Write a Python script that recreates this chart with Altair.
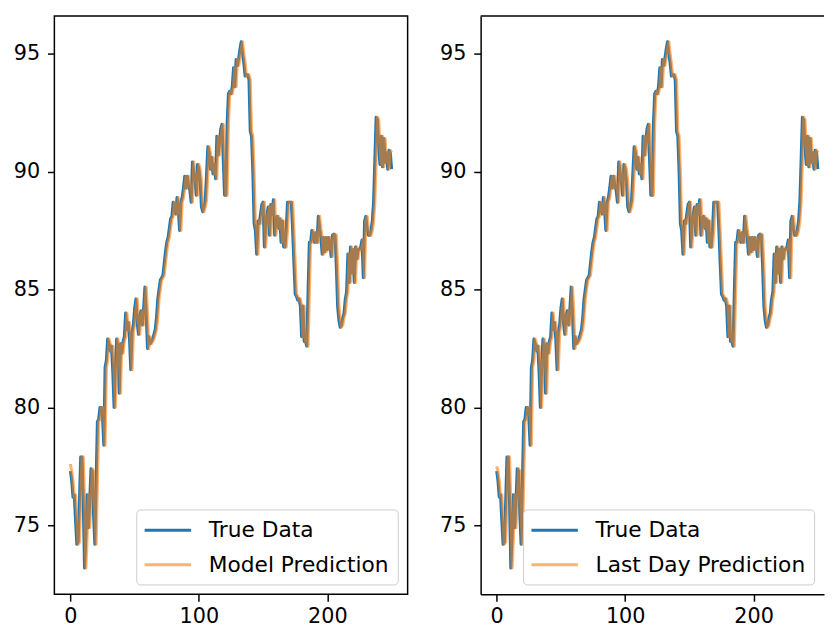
import altair as alt
import pandas as pd

# ---------------- data ----------------
days = list(range(251))

true_data = [
    77.3, 76.9, 76.2, 76.3, 75.2, 74.2, 74.3, 76.0, 77.9, 77.9,
    76.0, 73.2, 74.5, 76.3, 74.9, 76.0, 77.4, 77.3, 75.5, 74.2,
    76.8, 79.4, 79.5, 80.0, 80.0, 79.6, 78.4, 81.7, 82.0, 82.9,
    82.7, 82.4, 82.6, 81.5, 80.0, 81.8, 82.9, 82.5, 80.6, 82.7,
    82.3, 82.8, 83.0, 84.0, 83.3, 83.6, 82.9, 81.6, 83.2, 83.5,
    84.2, 84.6, 83.6, 83.1, 83.9, 84.1, 83.5, 84.2, 85.1, 84.0,
    82.5, 83.0, 82.7, 82.8, 82.9, 83.1, 83.3, 83.8, 84.6, 85.0,
    85.4, 85.5, 85.6, 86.1, 86.6, 87.0, 87.2, 87.6, 88.0, 88.1,
    88.7, 88.6, 88.2, 88.9, 88.4, 87.5, 88.7, 88.9, 89.3, 89.8,
    89.3, 89.8, 89.4, 89.2, 88.7, 90.4, 90.0, 89.6, 89.0, 90.3,
    90.1, 89.6, 88.5, 88.3, 88.5, 88.8, 89.9, 91.05, 90.8, 90.1,
    90.6, 89.9, 90.3, 89.7, 91.5, 90.7, 91.2, 91.8, 92.0, 90.5,
    89.0, 89.0, 92.0, 93.3, 93.4, 93.3, 93.6, 94.4, 93.6, 94.75,
    94.5, 94.8, 95.2, 95.5, 95.0, 94.6, 94.05, 94.1, 94.1, 93.9,
    91.7, 91.5, 90.0, 87.8, 87.5, 86.5, 87.9, 87.8, 88.2, 88.6,
    88.7, 86.8, 87.7, 88.2, 88.5, 87.3, 88.6, 88.2, 88.8, 87.3,
    88.0, 88.1, 87.6, 88.0, 87.0, 87.9, 86.8, 86.8, 87.5, 88.7,
    88.7, 88.7, 88.7, 87.5, 86.1, 84.8, 84.7, 84.55, 84.6, 84.3,
    83.0, 84.3, 82.8, 82.8, 82.6, 84.9, 87.0, 87.0, 87.5, 87.3,
    87.0, 87.4, 87.0, 88.1, 87.6, 87.2, 86.5, 87.2, 86.6, 87.2,
    86.7, 87.2, 86.9, 86.4, 87.3, 87.35, 87.3, 86.0, 84.3, 83.7,
    83.4, 83.5, 83.8, 84.0, 84.6, 84.9, 86.5, 85.3, 86.8, 85.7,
    86.7, 85.3, 86.8, 86.3, 86.7, 86.7, 86.8, 87.1, 85.5, 87.9,
    88.1, 87.6, 87.3, 87.3, 87.5, 87.9, 88.7, 90.5, 92.3, 92.2,
    91.0, 90.3, 91.5, 90.2, 91.4, 90.4, 90.8, 90.1, 90.9, 90.8,
    90.1,
]

model_pred = [
    77.6, 77.3, 76.9, 76.2, 76.3, 75.2, 74.2, 74.3, 76.0, 77.9,
    77.9, 76.0, 73.2, 74.5, 76.3, 74.9, 76.0, 77.4, 77.3, 75.5,
    74.2, 76.8, 79.4, 79.5, 80.0, 80.0, 79.6, 78.4, 81.7, 82.0,
    82.9, 82.7, 82.4, 82.6, 81.5, 80.0, 81.8, 82.9, 82.5, 80.6,
    82.7, 82.3, 82.8, 83.0, 84.0, 83.3, 83.6, 82.9, 81.6, 83.2,
    83.5, 84.2, 84.6, 83.6, 83.1, 83.9, 84.1, 83.5, 84.2, 85.1,
    84.0, 82.5, 83.0, 82.7, 82.8, 82.9, 83.1, 83.3, 83.8, 84.6,
    85.0, 85.4, 85.5, 85.6, 86.1, 86.6, 87.0, 87.2, 87.6, 88.0,
    88.1, 88.7, 88.6, 88.2, 88.9, 88.4, 87.5, 88.7, 88.9, 89.3,
    89.8, 89.3, 89.8, 89.4, 89.2, 88.7, 90.4, 90.0, 89.6, 89.0,
    90.3, 90.1, 89.6, 88.5, 88.3, 88.5, 88.8, 89.9, 91.05, 90.8,
    90.1, 90.6, 89.9, 90.3, 89.7, 91.5, 90.7, 91.2, 91.8, 92.0,
    90.5, 89.0, 89.0, 92.0, 93.3, 93.4, 93.3, 93.6, 94.4, 93.6,
    94.75, 94.5, 94.8, 95.2, 95.5, 95.0, 94.6, 94.05, 94.1, 94.1,
    93.9, 91.7, 91.5, 90.0, 87.8, 87.5, 86.5, 87.9, 87.8, 88.2,
    88.6, 88.7, 86.8, 87.7, 88.2, 88.5, 87.3, 88.6, 88.2, 88.8,
    87.3, 88.0, 88.1, 87.6, 88.0, 87.0, 87.9, 86.8, 86.8, 87.5,
    88.7, 88.7, 88.7, 88.7, 87.5, 86.1, 84.8, 84.7, 84.55, 84.6,
    84.3, 83.0, 84.3, 82.8, 82.8, 82.6, 84.9, 87.0, 87.0, 87.5,
    87.3, 87.0, 87.4, 87.0, 88.1, 87.6, 87.2, 86.5, 87.2, 86.6,
    87.2, 86.7, 87.2, 86.9, 86.4, 87.3, 87.35, 87.3, 86.0, 84.3,
    83.7, 83.4, 83.5, 83.8, 84.0, 84.6, 84.9, 86.5, 85.3, 86.8,
    85.7, 86.7, 85.3, 86.8, 86.3, 86.7, 86.7, 86.8, 87.1, 85.5,
    87.9, 88.1, 87.6, 87.3, 87.3, 87.5, 87.9, 88.7, 90.5, 92.3,
    92.2, 91.0, 90.3, 91.5, 90.2, 91.4, 90.4, 90.8, 90.1, 90.9,
    90.8,
]

last_day_pred = [
    77.5, 77.3, 76.9, 76.2, 76.3, 75.2, 74.2, 74.3, 76.0, 77.9,
    77.9, 76.0, 73.2, 74.5, 76.3, 74.9, 76.0, 77.4, 77.3, 75.5,
    74.2, 76.8, 79.4, 79.5, 80.0, 80.0, 79.6, 78.4, 81.7, 82.0,
    82.9, 82.7, 82.4, 82.6, 81.5, 80.0, 81.8, 82.9, 82.5, 80.6,
    82.7, 82.3, 82.8, 83.0, 84.0, 83.3, 83.6, 82.9, 81.6, 83.2,
    83.5, 84.2, 84.6, 83.6, 83.1, 83.9, 84.1, 83.5, 84.2, 85.1,
    84.0, 82.5, 83.0, 82.7, 82.8, 82.9, 83.1, 83.3, 83.8, 84.6,
    85.0, 85.4, 85.5, 85.6, 86.1, 86.6, 87.0, 87.2, 87.6, 88.0,
    88.1, 88.7, 88.6, 88.2, 88.9, 88.4, 87.5, 88.7, 88.9, 89.3,
    89.8, 89.3, 89.8, 89.4, 89.2, 88.7, 90.4, 90.0, 89.6, 89.0,
    90.3, 90.1, 89.6, 88.5, 88.3, 88.5, 88.8, 89.9, 91.05, 90.8,
    90.1, 90.6, 89.9, 90.3, 89.7, 91.5, 90.7, 91.2, 91.8, 92.0,
    90.5, 89.0, 89.0, 92.0, 93.3, 93.4, 93.3, 93.6, 94.4, 93.6,
    94.75, 94.5, 94.8, 95.2, 95.5, 95.0, 94.6, 94.05, 94.1, 94.1,
    93.9, 91.7, 91.5, 90.0, 87.8, 87.5, 86.5, 87.9, 87.8, 88.2,
    88.6, 88.7, 86.8, 87.7, 88.2, 88.5, 87.3, 88.6, 88.2, 88.8,
    87.3, 88.0, 88.1, 87.6, 88.0, 87.0, 87.9, 86.8, 86.8, 87.5,
    88.7, 88.7, 88.7, 88.7, 87.5, 86.1, 84.8, 84.7, 84.55, 84.6,
    84.3, 83.0, 84.3, 82.8, 82.8, 82.6, 84.9, 87.0, 87.0, 87.5,
    87.3, 87.0, 87.4, 87.0, 88.1, 87.6, 87.2, 86.5, 87.2, 86.6,
    87.2, 86.7, 87.2, 86.9, 86.4, 87.3, 87.35, 87.3, 86.0, 84.3,
    83.7, 83.4, 83.5, 83.8, 84.0, 84.6, 84.9, 86.5, 85.3, 86.8,
    85.7, 86.7, 85.3, 86.8, 86.3, 86.7, 86.7, 86.8, 87.1, 85.5,
    87.9, 88.1, 87.6, 87.3, 87.3, 87.5, 87.9, 88.7, 90.5, 92.3,
    92.2, 91.0, 90.3, 91.5, 90.2, 91.4, 90.4, 90.8, 90.1, 90.9,
    90.8,
]

x_ticks = [0, 100, 200]
y_ticks = [75, 80, 85, 90, 95]
series_true = "True Data"
series_model = "Model Prediction"
series_last = "Last Day Prediction"

# ---------------- styling ----------------
BLUE = "#1f77b4"
ORANGE = "#ff7f0e"
FONT = "DejaVu Sans"
TICK_FS = 21
LEG_FS = 22
PW_L = 358
PW_R = 348
PH = 586
Y_DOMAIN = [72.08, 96.59]
X_DOMAIN_L = [-12.5, 262.5]
X_DOMAIN_R = [-12.5, -12.5 + 275.0 * PW_R / PW_L]
# legend handle: a long horizontal stroke on a small nominal symbol size
SYM_PATH = "M-2.14,0H2.14"


def panel(pred, pred_name, width, xdom, framed):
    df = pd.DataFrame({
        "day": days + days,
        "value": true_data + pred,
        "series": [series_true] * len(days) + [pred_name] * len(days),
    })
    dom = [series_true, pred_name]
    legend = alt.Legend(
        title=None, orient="bottom-right", offset=10, padding=8.5,
        cornerRadius=4, strokeColor="#cccccc", fillColor="#ffffff",
        symbolType=SYM_PATH, symbolSize=484, symbolStrokeWidth=3,
        symbolOffset=11,
        labelFont=FONT, labelFontSize=LEG_FS, labelColor="#000000",
        labelOffset=29, labelLimit=500, rowPadding=11,
    )
    x = alt.X(
        "day:Q",
        scale=alt.Scale(domain=xdom, nice=False, zero=False),
        axis=alt.Axis(
            values=x_ticks, title=None, grid=False, domain=not framed,
            domainColor="#000000", domainWidth=1.5,
            tickSize=7, tickWidth=1.5, tickColor="#000000",
            labelFont=FONT, labelFontSize=TICK_FS, labelColor="#000000",
            labelPadding=5, labelFlush=False, minExtent=29, maxExtent=29,
        ),
    )
    y = alt.Y(
        "value:Q",
        scale=alt.Scale(domain=Y_DOMAIN, nice=False, zero=False),
        axis=alt.Axis(
            values=y_ticks, title=None, grid=False, domain=not framed,
            domainColor="#000000", domainWidth=1.5,
            tickSize=7, tickWidth=1.5, tickColor="#000000",
            labelFont=FONT, labelFontSize=TICK_FS, labelColor="#000000",
            labelPadding=8, minExtent=46, maxExtent=46,
        ),
    )
    color = alt.Color("series:N", scale=alt.Scale(domain=dom, range=[BLUE, ORANGE]), legend=legend)
    opacity = alt.Opacity("series:N", scale=alt.Scale(domain=dom, range=[1.0, 0.6]), legend=legend)
    base = alt.Chart(df).mark_line(strokeWidth=3.1, strokeJoin="round").encode(
        x=x, y=y, color=color, opacity=opacity
    )
    layers = [
        base.transform_filter(alt.datum.series == series_true),
        base.transform_filter(alt.datum.series == pred_name),
    ]
    if framed:
        view = alt.ViewBackground(stroke="#000000", strokeWidth=1.5)
    else:
        view = alt.ViewBackground(stroke="transparent")
        top = alt.Chart(pd.DataFrame({"k": [0]})).mark_rule(
            color="#000000", strokeWidth=1.5
        ).encode(x=alt.value(0), x2=alt.value(width), y=alt.value(0))
        layers.append(top)
    return alt.layer(*layers).properties(width=width, height=PH, view=view)


left = panel(model_pred, series_model, PW_L, X_DOMAIN_L, True)
right = panel(last_day_pred, series_last, PW_R, X_DOMAIN_R, False)

chart = (
    alt.hconcat(left, right, spacing=26)
    .resolve_scale(color="independent", opacity="independent")
    .properties(padding={"left": 0, "top": 2, "right": 0, "bottom": 0})
    .configure(font=FONT, background="#ffffff")
)

chart.save("out.html", embed_options={"renderer": "svg", "actions": False})
